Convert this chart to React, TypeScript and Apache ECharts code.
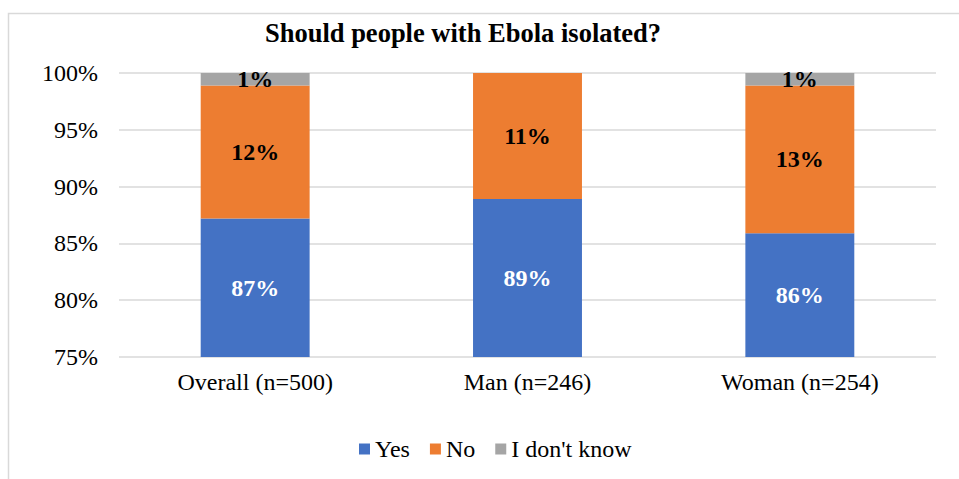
import React, { useEffect, useRef } from "react";
import * as echarts from "echarts";

const categories = ["Overall (n=500)", "Man (n=246)", "Woman (n=254)"];
const yesValues = [87.2, 88.9, 85.9];
const noValues = [11.7, 11.1, 13.0];
const dontKnowValues: (number | null)[] = [1.1, null, 1.1];
const seriesNames = ["Yes", "No", "I don't know"];
const titleText = "Should people with Ebola isolated?";

const FONT = "'Liberation Serif', 'Times New Roman', serif";

const pctLabel = (p: any) =>
  p.value == null || p.value === 0 ? "" : Math.round(p.value) + "%";

export default function App() {
  const ref = useRef<HTMLDivElement>(null);

  useEffect(() => {
    if (!ref.current) return;
    const chart = echarts.init(ref.current, undefined, { renderer: "svg" });

    const makeSeries = (name: string, data: (number | null)[], color: string, labelColor: string) => ({
      name,
      type: "bar",
      stack: "total",
      barWidth: "40%",
      data,
      itemStyle: { color },
      label: {
        show: true,
        position: "inside",
        formatter: pctLabel,
        color: labelColor,
        fontFamily: FONT,
        fontWeight: "bold",
        fontSize: 24,
      },
    });

    chart.setOption({
      animation: false,
      backgroundColor: "#ffffff",
      title: {
        text: titleText,
        left: 458,
        textAlign: "center",
        top: 14,
        textStyle: { fontFamily: FONT, fontWeight: "bold", fontSize: 26.5, color: "#000" },
      },
      graphic: [
        {
          type: "rect",
          shape: { x: 8.5, y: 13.5, width: 1000, height: 1000 },
          style: { fill: "none", stroke: "#d9d9d9", lineWidth: 1.5 },
          silent: true,
          z: -10,
        },
      ],
      legend: {
        left: 354,
        top: 432,
        itemWidth: 11,
        itemHeight: 11,
        itemGap: 20,
        icon: "rect",
        textStyle: { fontFamily: FONT, fontSize: 24, color: "#000" },
        data: seriesNames,
      },
      grid: { left: 119, right: 23, top: 73, bottom: 122 },
      xAxis: {
        type: "category",
        data: categories,
        axisLine: { show: false },
        axisTick: { show: false },
        axisLabel: { fontFamily: FONT, fontSize: 24, color: "#000", margin: 13 },
      },
      yAxis: {
        type: "value",
        min: 75,
        max: 100,
        interval: 5,
        axisLine: { show: false },
        axisTick: { show: false },
        axisLabel: {
          fontFamily: FONT,
          fontSize: 24,
          color: "#000",
          margin: 21,
          formatter: (v: number) => v + "%",
        },
        splitLine: { lineStyle: { color: "#d9d9d9", width: 1.5 } },
      },
      series: [
        makeSeries(seriesNames[0], yesValues, "#4472C4", "#ffffff"),
        makeSeries(seriesNames[1], noValues, "#ED7D31", "#000000"),
        makeSeries(seriesNames[2], dontKnowValues, "#A5A5A5", "#000000"),
      ],
    });

    return () => chart.dispose();
  }, []);

  return (
    <div
      ref={ref}
      style={{ position: "fixed", left: 0, top: 0, width: 959, height: 479 }}
    />
  );
}
